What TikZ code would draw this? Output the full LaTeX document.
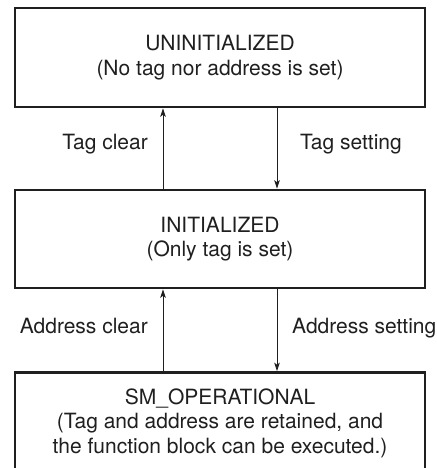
\documentclass[tikz,border=0pt]{standalone}
\usepackage{fontspec}
\setmainfont{TeX Gyre Heros}
\usetikzlibrary{calc,arrows.meta}

\begin{document}
\begin{tikzpicture}[x=1bp,y=-1bp]
    \tikzstyle{every node}=[inner sep=0, font=\fontsize{21bp}{24.5bp}\selectfont, text=black!88]
    \tikzstyle{state}=[draw=black!88, line width=2.6bp, minimum width=410bp, align=center]
    \tikzstyle{trans}=[draw=black!88, line width=.9bp, -{Stealth[length=8.5bp,width=5.5bp,inset=2bp]}]
    \useasboundingbox (0,0) rectangle (437,468);
    % the three states, top to bottom
    \node[state, minimum height=99bp] (UNINIT) at (220,57.5) {UNINITIALIZED\\(No tag nor address is set)};
    \node[state, minimum height=98bp] (INIT) at (220,239) {INITIALIZED\\(Only tag is set)};
    \node[state, minimum height=101bp] (OPER) at (220,423) {SM\_OPERATIONAL\\(Tag and address are retained, and\\the function block can be executed.)};
    % transitions
    \draw[trans] ($(INIT.north)+(-57,0)$) -- ($(UNINIT.south)+(-57,0)$);
    \draw[trans] ($(UNINIT.south)+(57,0)$) -- ($(INIT.north)+(57,0)$);
    \draw[trans] ($(OPER.north)+(-57,0)$) -- ($(INIT.south)+(-57,0)$);
    \draw[trans] ($(INIT.south)+(57,0)$) -- ($(OPER.north)+(57,0)$);
    \node[anchor=base east] (TAGCLR) at (148,150) {Tag clear};
    \node[anchor=base west] (TAGSET) at (300,150) {Tag setting};
    \node[anchor=base east] (ADRCLR) at (148,333) {Address clear};
    \node[anchor=base west] (ADRSET) at (292,333) {Address setting};
\end{tikzpicture}
\end{document}
